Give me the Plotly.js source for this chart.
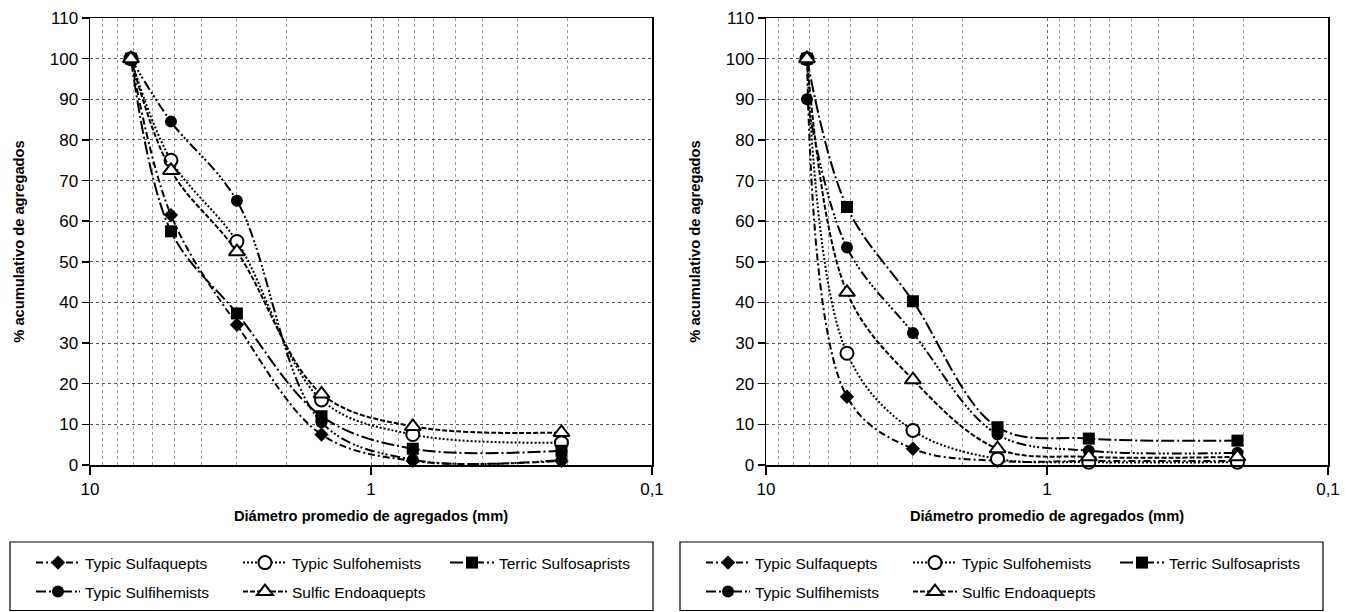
<!DOCTYPE html>
<html>
<head>
<meta charset="utf-8">
<script src="https://cdn.plot.ly/plotly-3.0.1.min.js"></script>
<style>
html,body{margin:0;padding:0;background:#fff;}
#chart{width:1351px;height:612px;}
</style>
</head>
<body>
<div id="chart"></div>
<script>
// ---- data ----
const diameters = [7.15, 5.15, 3, 1.5, 0.71, 0.21];
const seriesNames = ["Typic Sulfaquepts", "Typic Sulfohemists", "Terric Sulfosaprists", "Typic Sulfihemists", "Sulfic Endoaquepts"];

// left panel
const sulfaqueptsL   = [100, 61.5, 34.5, 7.5, 1, 1];
const sulfohemistsL  = [100, 75, 55, 16, 7.5, 5.5];
const sulfosapristsL = [100, 57.5, 37.3, 12, 4, 3.5];
const sulfihemistsL  = [100, 84.5, 65, 10.5, 1.3, 1.2];
const endoaqueptsL   = [100, 72.5, 52.5, 17.5, 9.5, 8];

// right panel
const sulfaqueptsR   = [100, 16.8, 4, 1, 1, 1];
const sulfohemistsR  = [100, 27.5, 8.5, 1.5, 0.7, 0.7];
const sulfosapristsR = [100, 63.5, 40.3, 9.3, 6.5, 6];
const sulfihemistsR  = [90, 53.5, 32.5, 7.5, 3.5, 3];
const endoaqueptsR   = [100, 42.5, 21, 4, 2, 2];

const xTickVals = [10, 1, 0.1];
const xTickText = ["10", "1", "0,1"];

// ---- styles ----
const FONT = "'Liberation Sans', Arial, sans-serif";
const styles = [
  {dash: "7px,3px,2px,3px", marker: {symbol: "diamond", size: 11, color: "#000"}},
  {dash: "2px,2px", marker: {symbol: "circle", size: 13, color: "#fff", line: {color: "#000", width: 2}}},
  {dash: "13px,3px,2px,3px", marker: {symbol: "square", size: 12, color: "#000"}},
  {dash: "10px,3px,2px,2px,2px,2px,2px,3px", marker: {symbol: "circle", size: 12, color: "#000"}},
  {dash: "5px,2px", marker: {symbol: "triangle-up", size: 14, color: "#fff", line: {color: "#000", width: 2}}}
];

const leftData = [sulfaqueptsL, sulfohemistsL, sulfosapristsL, sulfihemistsL, endoaqueptsL];
const rightData = [sulfaqueptsR, sulfohemistsR, sulfosapristsR, sulfihemistsR, endoaqueptsR];
// row 1: first three series, row 2: last two
const legendRowL = ["legend", "legend", "legend", "legend2", "legend2"];
const legendRowR = ["legend3", "legend3", "legend3", "legend4", "legend4"];

const traces = [];
function addTraces(dataSet, xa, ya, legends) {
  dataSet.forEach((ys, i) => {
    traces.push({
      type: "scatter", mode: "lines+markers",
      x: diameters, y: ys, xaxis: xa, yaxis: ya,
      name: seriesNames[i], legend: legends[i],
      line: {color: "#000", width: 2, dash: styles[i].dash, shape: "spline", smoothing: 1},
      marker: styles[i].marker,
      cliponaxis: false
    });
  });
}
addTraces(leftData, "x", "y", legendRowL);
addTraces(rightData, "x2", "y2", legendRowR);

// ---- geometry (pixels -> paper) ----
const W = 1351, H = 612;
const M = {l: 90, r: 23, t: 18, b: 147};
const PW = W - M.l - M.r, PH = H - M.t - M.b;
const px = v => (v - M.l) / PW;
const py = v => (H - M.b - v) / PH;

function xaxisDef(domain) {
  return {
    domain: domain, type: "log", range: [1, -1], autorange: false,
    tickmode: "array", tickvals: xTickVals, ticktext: xTickText,
    ticks: "outside", ticklen: 8, tickwidth: 1.5, tickcolor: "#000",
    showline: true, linecolor: "#000", linewidth: 1.5, mirror: true,
    showgrid: true, gridcolor: "#666", griddash: "dot", gridwidth: 1,
    minor: {dtick: "D1", showgrid: true, gridcolor: "#999", griddash: "dot", gridwidth: 1, ticks: ""},
    zeroline: false, automargin: true,
    tickfont: {family: FONT, size: 17, color: "#000"},
    title: {text: "Diámetro promedio de agregados (mm)", standoff: 13,
            font: {family: FONT, size: 14.7, color: "#000", weight: "bold"}}
  };
}
function yaxisDef(anchor) {
  return {
    domain: [0, 1], anchor: anchor, range: [0, 110], autorange: false,
    tickmode: "linear", tick0: 0, dtick: 10,
    ticks: "outside", ticklen: 7, tickwidth: 1.5, tickcolor: "#000",
    showline: true, linecolor: "#000", linewidth: 1.5, mirror: true,
    showgrid: true, gridcolor: "#555", griddash: "dot", gridwidth: 1,
    zeroline: false, automargin: true,
    tickfont: {family: FONT, size: 17, color: "#000"},
    title: {text: "% acumulativo de agregados", standoff: 21,
            font: {family: FONT, size: 14.7, color: "#000", weight: "bold"}}
  };
}

function legendDef(xPix, yPix) {
  return {
    orientation: "h", x: px(xPix), xanchor: "left", y: py(yPix), yanchor: "middle",
    xref: "paper", yref: "paper",
    bgcolor: "rgba(0,0,0,0)", borderwidth: 0,
    font: {family: FONT, size: 15.5, color: "#000"},
    itemwidth: 44, entrywidth: 148, entrywidthmode: "pixels",
    itemclick: false, itemdoubleclick: false
  };
}

const layout = {
  width: W, height: H,
  margin: {l: M.l, r: M.r, t: M.t, b: M.b, autoexpand: false},
  paper_bgcolor: "#fff", plot_bgcolor: "#fff",
  font: {family: FONT, color: "#000"},
  showlegend: true,
  xaxis: Object.assign(xaxisDef([0, px(652)]), {anchor: "y"}),
  yaxis: yaxisDef("x"),
  xaxis2: Object.assign(xaxisDef([px(766), 1]), {anchor: "y2"}),
  yaxis2: yaxisDef("x2"),
  legend: legendDef(31, 563),
  legend2: legendDef(31, 592),
  legend3: legendDef(701, 563),
  legend4: legendDef(701, 592),
  shapes: [
    {type: "rect", xref: "paper", yref: "paper", x0: px(10), x1: px(653), y0: py(610.5), y1: py(542), line: {color: "#000", width: 1.2}},
    {type: "rect", xref: "paper", yref: "paper", x0: px(680), x1: px(1323), y0: py(610.5), y1: py(542), line: {color: "#000", width: 1.2}}
  ]
};

Plotly.newPlot("chart", traces, layout, {displayModeBar: false, staticPlot: true});
</script>
</body>
</html>
